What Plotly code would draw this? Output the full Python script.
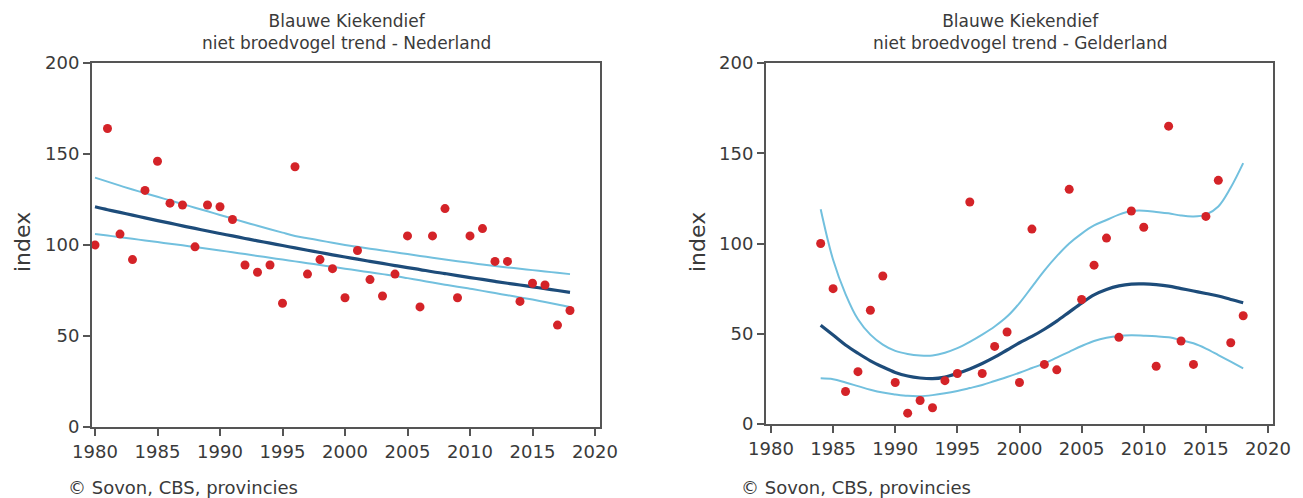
import plotly.graph_objects as go

# ---------------- data: Nederland ----------------
nl_years = list(range(1980, 2019))
nl_index = [100, 164, 106, 92, 130, 146, 123, 122, 99, 122,
            121, 114, 89, 85, 89, 68, 143, 84, 92, 87,
            71, 97, 81, 72, 84, 105, 66, 105, 120, 71,
            105, 109, 91, 91, 69, 79, 78, 56, 64]
nl_trend = [121.0, 119.4, 117.9, 116.4, 114.9, 113.4, 112.0, 110.5, 109.1, 107.7,
            106.3, 105.0, 103.6, 102.3, 101.0, 99.7, 98.4, 97.1, 95.9, 94.6,
            93.4, 92.2, 91.0, 89.9, 88.7, 87.6, 86.5, 85.3, 84.3, 83.2,
            82.1, 81.1, 80.0, 79.0, 78.0, 77.0, 76.0, 75.0, 74.0]
nl_upper = [137.0, 134.8, 132.6, 130.5, 128.5, 126.5, 124.5, 122.5, 120.5, 118.5,
            116.5, 114.5, 112.5, 110.6, 108.7, 106.8, 105.0, 103.7, 102.5, 101.2,
            100.0, 99.0, 98.0, 97.0, 96.0, 95.0, 94.0, 93.0, 92.0, 91.1,
            90.2, 89.3, 88.5, 87.7, 87.0, 86.2, 85.5, 84.7, 84.0]
nl_lower = [106.0, 105.2, 104.3, 103.4, 102.5, 101.6, 100.7, 99.8, 98.9, 98.0,
            97.0, 96.0, 95.0, 94.0, 93.0, 92.0, 91.0, 90.0, 89.0, 88.0,
            87.0, 86.0, 85.0, 84.0, 83.0, 81.8, 80.6, 79.4, 78.2, 77.1,
            76.0, 74.8, 73.6, 72.4, 71.2, 70.0, 68.7, 67.3, 66.0]

# ---------------- data: Gelderland ----------------
gl_years = list(range(1984, 2019))
gl_index = [100, 75, 18, 29, 63, 82, 23, 6, 13, 9,
            24, 28, 123, 28, 43, 51, 23, 108, 33, 30,
            130, 69, 88, 103, 48, 118, 109, 32, 165, 46,
            33, 115, 135, 45, 60]
gl_trend = [54.7, 49.3, 43.8, 39.2, 35.0, 31.6, 28.6, 26.6, 25.5, 25.1,
            26.0, 28.0, 30.5, 33.5, 37.0, 41.0, 45.0, 48.5, 52.5, 57.0,
            62.0, 67.0, 71.5, 74.5, 76.5, 77.5, 77.6, 77.2, 76.4, 75.0,
            73.7, 72.3, 70.9, 69.0, 67.2]
gl_upper = [119.0, 91.0, 72.0, 58.0, 49.5, 44.0, 40.5, 38.8, 38.0, 38.0,
            39.5, 42.0, 45.5, 49.5, 54.0, 59.5, 67.0, 76.0, 85.0, 93.0,
            100.0, 105.5, 110.0, 113.0, 116.0, 118.0, 118.2, 117.5, 116.7, 115.5,
            115.0, 116.0, 120.5, 131.0, 144.5]
gl_lower = [25.3, 24.8, 23.0, 21.0, 19.0, 17.4, 16.4, 15.6, 15.4, 16.0,
            17.0, 18.3, 19.9, 21.6, 23.8, 26.0, 28.4, 31.0, 33.6, 36.8,
            40.0, 43.2, 46.0, 47.8, 48.8, 49.1, 48.9, 48.6, 48.0, 46.5,
            44.7, 41.8, 38.2, 34.5, 30.8]

titles = ["Blauwe Kiekendief<br>niet broedvogel trend - Nederland",
          "Blauwe Kiekendief<br>niet broedvogel trend - Gelderland"]
y_title = "index"
source_text = "© Sovon, CBS, provincies"
x_ticks = list(range(1980, 2021, 5))
y_ticks = [0, 50, 100, 150, 200]

DARK = "#1d4c7a"
LIGHT = "#72c0de"
RED = "#d42328"
AXIS = "#555555"
TEXT = "#3a3a3a"
FONT = "DejaVu Sans"

W, H = 1303, 498
fig = go.Figure()

panels = [
    (nl_years, nl_index, nl_trend, nl_upper, nl_lower, "x", "y"),
    (gl_years, gl_index, gl_trend, gl_upper, gl_lower, "x2", "y2"),
]
for yrs, idx, tr, up, lo, xa, ya in panels:
    fig.add_trace(go.Scatter(x=yrs, y=up, mode="lines", line=dict(color=LIGHT, width=2, shape="spline"),
                             xaxis=xa, yaxis=ya, showlegend=False, hoverinfo="skip"))
    fig.add_trace(go.Scatter(x=yrs, y=lo, mode="lines", line=dict(color=LIGHT, width=2, shape="spline"),
                             xaxis=xa, yaxis=ya, showlegend=False, hoverinfo="skip"))
    fig.add_trace(go.Scatter(x=yrs, y=tr, mode="lines", line=dict(color=DARK, width=3.2, shape="spline"),
                             xaxis=xa, yaxis=ya, showlegend=False, hoverinfo="skip"))
    fig.add_trace(go.Scatter(x=yrs, y=idx, mode="markers", marker=dict(color=RED, size=9),
                             xaxis=xa, yaxis=ya, showlegend=False))

def px_x(p):
    return p / W

def px_y(p):
    return 1 - p / H

axis_common = dict(showline=True, linecolor=AXIS, linewidth=2, mirror=True,
                   ticks="outside", ticklen=7, tickwidth=1.5, tickcolor=AXIS,
                   showgrid=False, zeroline=False, automargin=False,
                   tickfont=dict(family=FONT, size=18, color=TEXT))

fig.update_layout(
    template="none",
    width=W, height=H,
    margin=dict(l=0, r=0, t=0, b=0, pad=0),
    paper_bgcolor="white", plot_bgcolor="white",
    xaxis=dict(domain=[px_x(92), px_x(600)], range=[1979.76, 2020.4], tickvals=x_ticks,
               anchor="y", **axis_common),
    yaxis=dict(domain=[px_y(427), px_y(63)], range=[0, 200], tickvals=y_ticks, anchor="x",
               **axis_common),
    xaxis2=dict(domain=[px_x(766), px_x(1273)], range=[1979.6, 2020.4], tickvals=x_ticks,
                anchor="y2", **axis_common),
    yaxis2=dict(domain=[px_y(424), px_y(63)], range=[0, 200], tickvals=y_ticks, anchor="x2",
                **axis_common),
)

for cx, t in [(346, titles[0]), (1020, titles[1])]:
    fig.add_annotation(x=px_x(cx), y=px_y(9), xref="paper", yref="paper", text=t, showarrow=False,
                       xanchor="center", yanchor="top", align="center",
                       font=dict(family=FONT, size=17, color=TEXT))

for cx, cy in [(22, 242), (697, 242)]:
    fig.add_annotation(x=px_x(cx), y=px_y(cy), xref="paper", yref="paper", text=y_title,
                       showarrow=False, textangle=-90, xanchor="center", yanchor="middle",
                       font=dict(family=FONT, size=22, color=TEXT))

for sx in [66, 739]:
    fig.add_annotation(x=px_x(sx), y=px_y(487), xref="paper", yref="paper", text=source_text,
                       showarrow=False, xanchor="left", yanchor="middle",
                       font=dict(family=FONT, size=18, color=TEXT))

fig.write_html("out.html")
